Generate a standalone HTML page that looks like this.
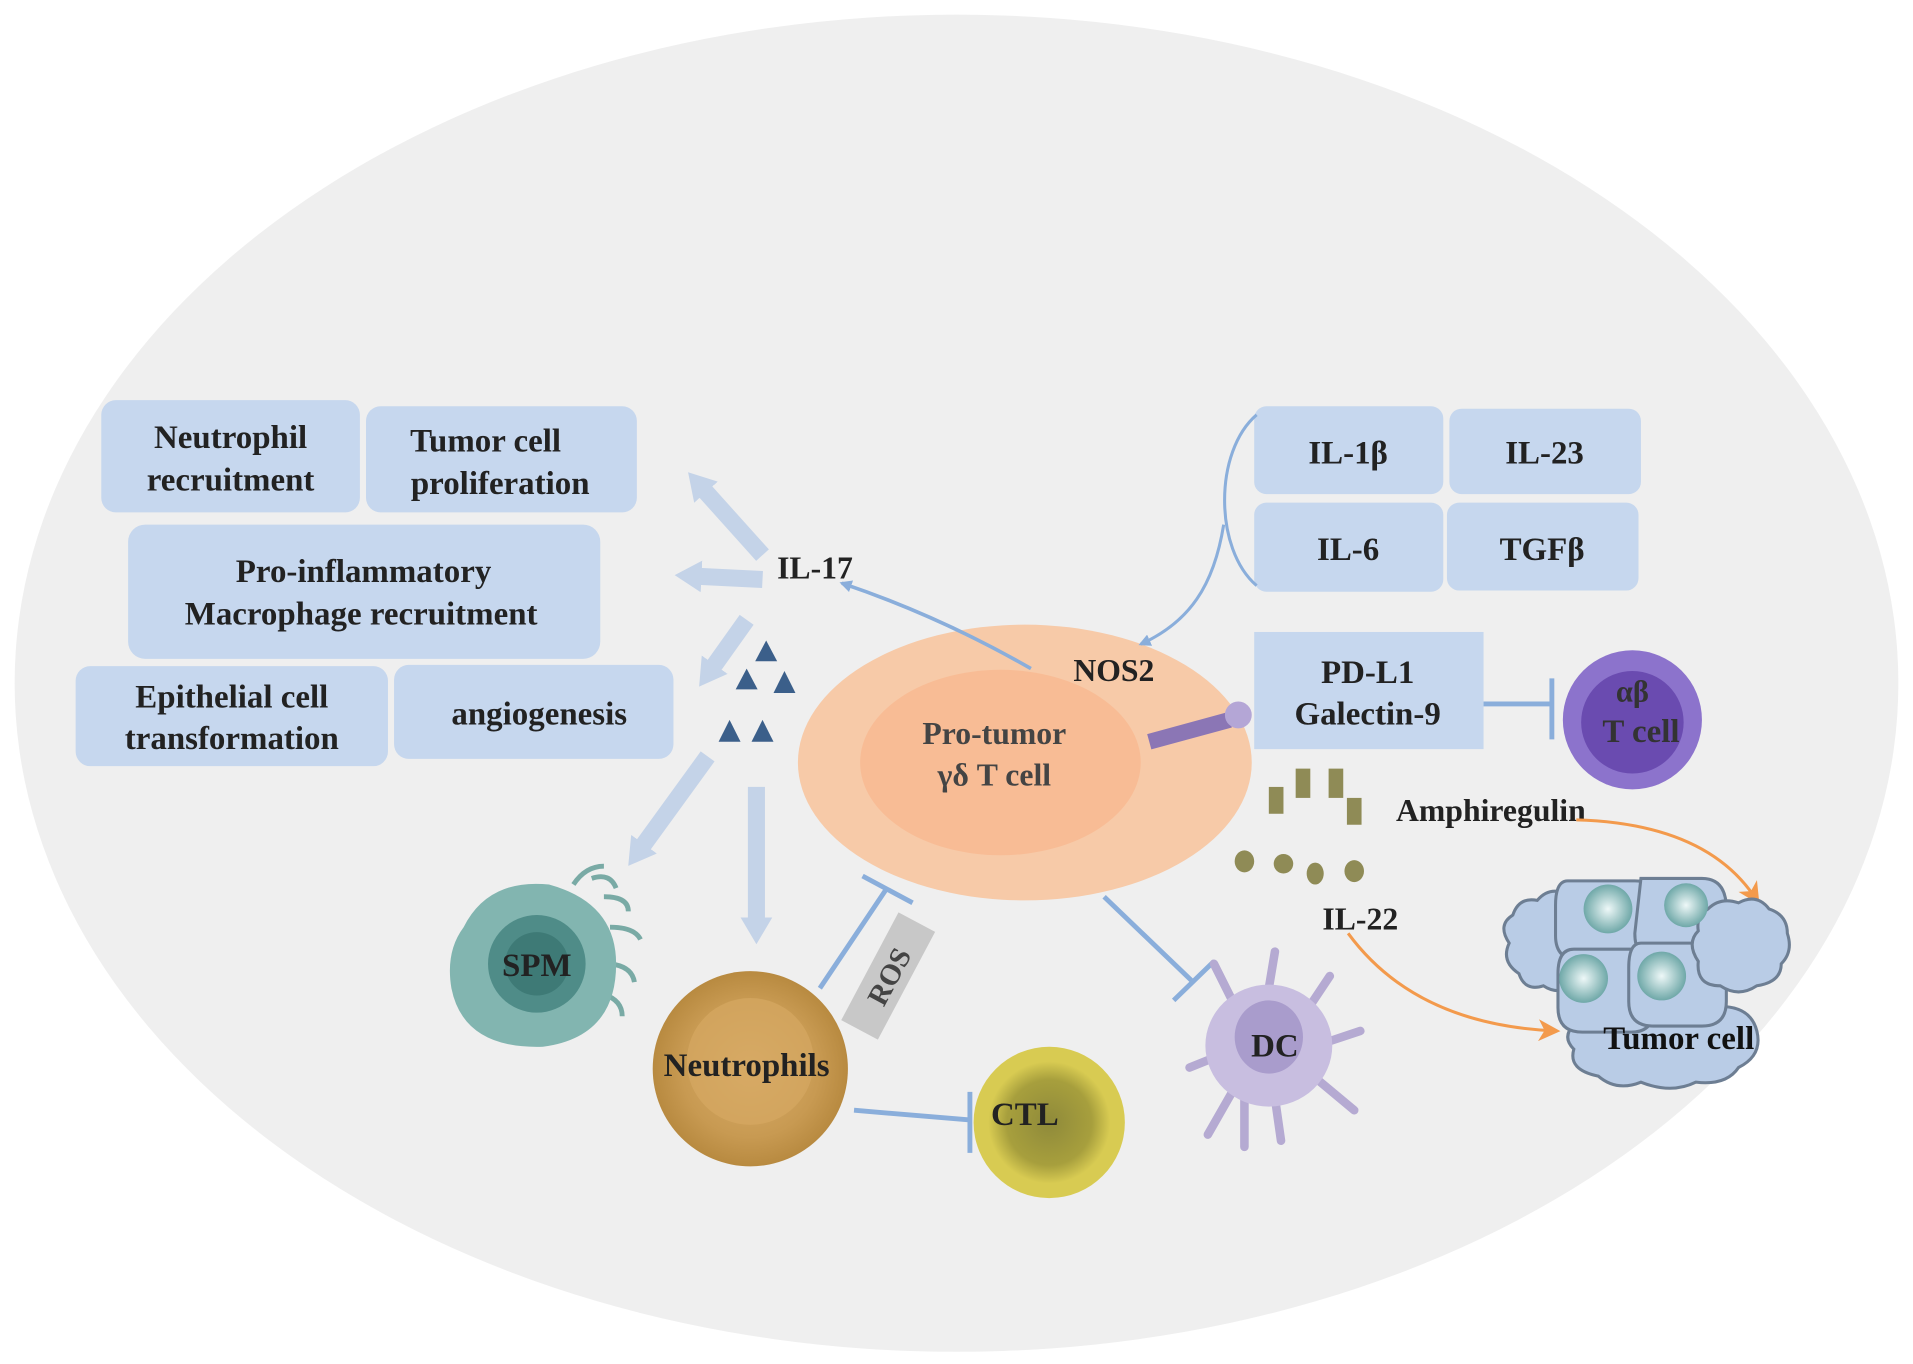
<!DOCTYPE html>
<html><head><meta charset="utf-8"><style>
html,body{margin:0;padding:0;background:#fff;width:1913px;height:1364px;overflow:hidden}
svg{display:block}
text{font-family:"Liberation Serif",serif;font-weight:bold;fill:#222;text-anchor:middle}
</style></head><body>
<svg width="1913" height="1364" viewBox="0 0 1568 1118" preserveAspectRatio="none">
<defs>
<marker id="ab" markerWidth="10" markerHeight="10" refX="8" refY="5" orient="auto" markerUnits="userSpaceOnUse"><path d="M0,0 L10,5 L0,10 z" fill="#8aaedb"/></marker>
<marker id="ao" markerWidth="18" markerHeight="18" refX="14" refY="9" orient="auto" markerUnits="userSpaceOnUse"><path d="M0,0 L18,9 L0,18 L5,9 z" fill="#f39a4c"/></marker>
<marker id="af" markerWidth="34" markerHeight="34" refX="10" refY="17" orient="auto" markerUnits="userSpaceOnUse"><path d="M0,4 L22,17 L0,30 z" fill="#c4d3e8"/></marker>
<radialGradient id="nuc"><stop offset="0" stop-color="#eef8f8"/><stop offset="1" stop-color="#6fa8a8"/></radialGradient>
<radialGradient id="neu"><stop offset="0" stop-color="#d9ad6a"/><stop offset="0.7" stop-color="#c89a52"/><stop offset="1" stop-color="#b88a40"/></radialGradient>
<radialGradient id="ctl"><stop offset="0" stop-color="#8f8a3a"/><stop offset="0.7" stop-color="#a79f3d"/><stop offset="1" stop-color="#d8cb52"/></radialGradient>
</defs>
<ellipse cx="784" cy="560" rx="772" ry="548" fill="#efefef"/>
<g fill="#c6d7ee">
<rect x="83" y="328" width="212" height="92" rx="12"/>
<rect x="300" y="333" width="222" height="87" rx="12"/>
<rect x="105" y="430" width="387" height="110" rx="14"/>
<rect x="62" y="546" width="256" height="82" rx="12"/>
<rect x="323" y="545" width="229" height="77" rx="12"/>
<rect x="1028" y="333" width="155" height="72" rx="10"/>
<rect x="1188" y="335" width="157" height="70" rx="10"/>
<rect x="1028" y="412" width="155" height="73" rx="10"/>
<rect x="1186" y="412" width="157" height="72" rx="10"/>
<rect x="1028" y="518" width="188" height="96"/>
</g>
<g font-size="27">
<text x="189" y="367">Neutrophil</text><text x="189" y="402">recruitment</text>
<text x="398" y="370">Tumor cell</text><text x="410" y="405">proliferation</text>
<text x="298" y="477">Pro-inflammatory</text><text x="296" y="512">Macrophage recruitment</text>
<text x="190" y="580">Epithelial cell</text><text x="190" y="614">transformation</text>
<text x="442" y="594">angiogenesis</text>
<text x="1105" y="380">IL-1β</text><text x="1266" y="380">IL-23</text>
<text x="1105" y="459">IL-6</text><text x="1264" y="459">TGFβ</text>
<text x="1121" y="560">PD-L1</text><text x="1121" y="594">Galectin-9</text>
</g>
<!-- fat arrows -->
<g stroke="#c4d3e8" stroke-width="14" fill="none" marker-end="url(#af)">
<line x1="625" y1="455" x2="572" y2="396"/>
<line x1="625" y1="475" x2="565" y2="472"/>
<line x1="612" y1="508" x2="580" y2="553"/>
<line x1="580" y1="620" x2="522" y2="700"/>
<line x1="620" y1="645" x2="620" y2="762"/>
</g>
<text x="668" y="474" font-size="26">IL-17</text>
<g fill="#3b5f8a">
<path d="M628,525 l9,17 h-18z"/><path d="M612,548 l9,17 h-18z"/><path d="M643,550 l9,18 h-18z"/>
<path d="M598,590 l9,18 h-18z"/><path d="M625,590 l9,18 h-18z"/>
</g>
<!-- T cell -->
<ellipse cx="840" cy="625" rx="186" ry="113" fill="#f7caa8"/>
<ellipse cx="820" cy="625" rx="115" ry="76" fill="#f8bc95"/>
<text x="815" y="610" font-size="26" fill="#444" font-weight="normal" style="fill:#444">Pro-tumor</text>
<text x="815" y="644" font-size="26" style="fill:#444">γδ T cell</text>
<text x="913" y="558" font-size="26">NOS2</text>
<path d="M845,548 Q770,505 690,478" stroke="#8aaedb" stroke-width="3" fill="none" marker-end="url(#ab)"/>
<path d="M1030,340 C995,370 995,450 1030,480" stroke="#8aaedb" stroke-width="2.5" fill="none"/>
<path d="M1003,430 C995,480 975,510 935,528" stroke="#8aaedb" stroke-width="2.5" fill="none" marker-end="url(#ab)"/>
<line x1="942" y1="608" x2="1008" y2="590" stroke="#8b76b5" stroke-width="13"/>
<circle cx="1015" cy="586" r="11" fill="#b4a6d6"/>
<!-- inhibitions -->
<g stroke="#8aaedb" stroke-width="4" fill="none">
<line x1="1216" y1="577" x2="1272" y2="577"/><line x1="1272" y1="556" x2="1272" y2="606"/>
<line x1="905" y1="735" x2="978" y2="805"/><line x1="962" y1="820" x2="995" y2="788"/>
<line x1="672" y1="810" x2="727" y2="728"/><line x1="707" y1="718" x2="748" y2="740"/>
<line x1="700" y1="910" x2="795" y2="918"/><line x1="795" y1="895" x2="795" y2="945"/>
</g>
<!-- SPM -->
<g stroke="#79aaa5" stroke-width="4" fill="none">
<path d="M470,725 q10,-15 25,-15"/><path d="M485,720 q15,-5 20,8"/><path d="M495,735 q20,0 20,12"/><path d="M500,760 q20,0 25,10"/><path d="M500,790 q18,2 20,15"/><path d="M495,815 q15,5 15,18"/>
</g>
<path d="M380,760 Q400,720 450,725 Q505,740 505,790 Q505,850 445,858 Q380,860 370,810 Q365,780 380,760z" fill="#82b5b0"/>
<circle cx="440" cy="790" r="40" fill="#4f8c88"/>
<circle cx="440" cy="790" r="26" fill="#3e7a76"/>
<text x="440" y="800" font-size="27">SPM</text>
<!-- neutrophils -->
<circle cx="615" cy="876" r="80" fill="url(#neu)"/>
<circle cx="615" cy="870" r="52" fill="#d5a862" opacity="0.7"/>
<text x="612" y="882" font-size="27">Neutrophils</text>
<g transform="translate(728,800) rotate(-62)">
<rect x="-50" y="-17" width="100" height="34" fill="#c8c8c8"/>
<text x="0" y="9" font-size="24" style="fill:#444">ROS</text>
</g>
<!-- CTL -->
<circle cx="860" cy="920" r="62" fill="#d8cb52"/>
<circle cx="860" cy="920" r="50" fill="url(#ctl)"/>
<text x="840" y="922" font-size="27">CTL</text>
<!-- DC -->
<g stroke="#b5aad2" stroke-width="7" stroke-linecap="round" fill="none">
<path d="M1010,820 L995,790"/><path d="M1040,810 L1045,780"/><path d="M1070,830 L1090,800"/><path d="M1085,855 L1115,845"/><path d="M1080,885 L1110,910"/><path d="M1045,900 L1050,935"/><path d="M1010,895 L990,930"/><path d="M1000,865 L975,875"/><path d="M1020,900 L1020,940"/>
</g>
<ellipse cx="1040" cy="857" rx="52" ry="50" fill="#c8bee0"/>
<ellipse cx="1040" cy="850" rx="28" ry="30" fill="#a99ccc"/>
<text x="1045" y="866" font-size="27">DC</text>
<!-- ab T cell -->
<circle cx="1338" cy="590" r="57" fill="#8c73cc"/>
<circle cx="1338" cy="592" r="42" fill="#6a4bb0"/>
<text x="1338" y="575" font-size="25" style="fill:#333">αβ</text>
<text x="1345" y="608" font-size="27" style="fill:#333">T cell</text>
<!-- amphiregulin / IL-22 -->
<g fill="#8f8b56">
<rect x="1040" y="645" width="12" height="22"/><rect x="1062" y="630" width="12" height="24"/><rect x="1089" y="630" width="12" height="24"/><rect x="1104" y="654" width="12" height="22"/>
<ellipse cx="1020" cy="706" rx="8" ry="9"/><ellipse cx="1052" cy="708" rx="8" ry="8"/><ellipse cx="1078" cy="716" rx="7" ry="9"/><ellipse cx="1110" cy="714" rx="8" ry="9"/>
</g>
<text x="1222" y="673" font-size="26">Amphiregulin</text>
<text x="1115" y="762" font-size="26">IL-22</text>
<path d="M1292,672 Q1400,675 1440,738" stroke="#f39a4c" stroke-width="2.5" fill="none" marker-end="url(#ao)"/>
<path d="M1105,765 Q1160,840 1275,845" stroke="#f39a4c" stroke-width="2.5" fill="none" marker-end="url(#ao)"/>
<!-- tumor -->
<g fill="#b9cce6" stroke="#6d7e93" stroke-width="2.5">
<path d="M1240,750 q5,-15 20,-12 q10,-12 25,-5 l10,70 q-15,15 -30,5 q-15,5 -20,-10 q-15,-10 -8,-25 q-10,-15 3,-23z"/>
<path d="M1290,840 q5,-15 25,-15 q20,-15 45,-5 q25,-10 50,5 q25,0 30,20 q5,20 -15,30 q-10,15 -35,12 q-20,10 -45,0 q-20,8 -35,-5 q-25,-5 -20,-22 q-10,-10 0,-20z"/>
<path d="M1285,722 h55 q20,0 20,20 v25 q0,20 -20,20 h-45 q-20,0 -20,-20 v-25 q0,-20 10,-20z"/>
<path d="M1345,720 h50 q20,0 20,25 v20 q0,20 -20,20 h-40 q-15,0 -15,-20z"/>
<path d="M1290,778 h50 q15,0 15,20 v30 q0,18 -18,18 h-40 q-20,0 -20,-20 v-28 q0,-20 13,-20z"/>
<path d="M1345,773 h50 q20,0 20,20 v28 q0,20 -20,20 h-40 q-20,0 -20,-20 v-28 q0,-20 10,-20z"/>
<path d="M1400,745 q10,-10 25,-5 q15,-8 25,5 q15,5 15,20 q5,15 -5,25 q0,15 -20,18 q-15,10 -30,0 q-20,0 -18,-20 q-10,-15 0,-25 q-2,-12 8,-18z"/>
</g>
<circle cx="1318" cy="745" r="20" fill="url(#nuc)"/>
<circle cx="1382" cy="742" r="18" fill="url(#nuc)"/>
<circle cx="1298" cy="802" r="20" fill="url(#nuc)"/>
<circle cx="1362" cy="800" r="20" fill="url(#nuc)"/>
<text x="1376" y="860" font-size="27" style="fill:#111">Tumor cell</text>
</svg>
</body></html>
